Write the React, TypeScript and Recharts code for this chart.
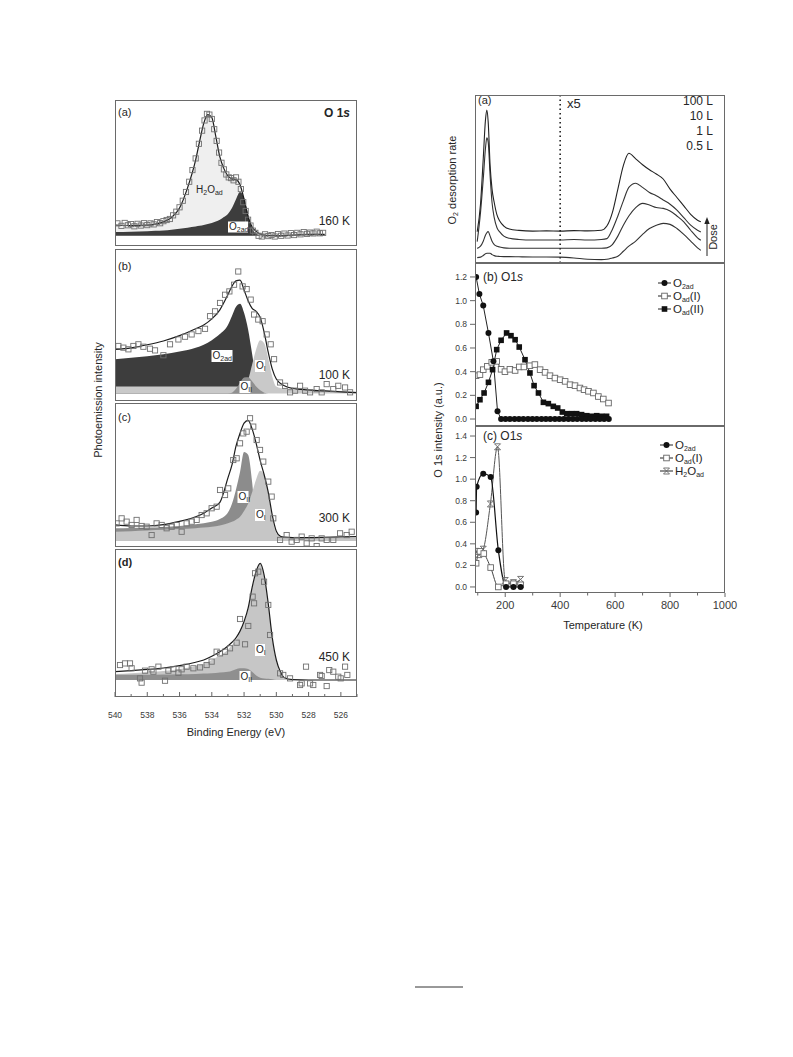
import React from "react";
import { ComposedChart, Line, Area, Scatter, XAxis, YAxis, ReferenceLine } from "recharts";

const FONT = "'Liberation Sans', Arial, Helvetica, sans-serif";
const INK = "#262626";
const AXIS = "#555";

// ---------- XPS O 1s spectra (left) ----------
const beTicks = [525, 526, 527, 528, 529, 530, 531, 532, 533, 534, 535, 536, 537, 538, 539, 540];
const beMajor = [526, 528, 530, 532, 534, 536, 538, 540];

// (a) 160 K
const aEnergy = [540, 539, 538, 537.5, 537, 536.5, 536, 535.5, 535, 534.75, 534.5, 534.25, 534, 533.75, 533.5, 533.25, 533, 532.75, 532.5, 532.25, 532, 531.75, 531.5, 531.25, 531, 530.5, 530, 529, 528, 527];
const aFit = [14.4, 14.0, 14.3, 15.0, 16.5, 19.5, 26, 40, 59, 72, 84, 90, 88, 75, 61, 53, 48, 46, 45.5, 42, 32, 20, 13, 10, 8.2, 7.2, 7.0, 7.5, 8.0, 8.0];
const aO2ad = [9.6, 9.8, 10.1, 10.4, 10.7, 11.2, 11.8, 12.5, 13.3, 13.8, 14.3, 15, 15.8, 16.8, 18, 19.8, 22, 26, 32, 37, 33, 22, 12, 8.5, 7.2, 7.2, 7.2, 7.2, 7.2, 7.2];
const aPoints = [
  [539.85, 15.5], [539.6, 13.8], [539.4, 15.8], [539.2, 14.2], [539.0, 15.0], [538.8, 13.5], [538.6, 15.2], [538.4, 14.0],
  [538.2, 15.6], [538.0, 14.3], [537.8, 15.5], [537.6, 14.8], [537.4, 16.4], [537.2, 15.6], [537.0, 17.0], [536.8, 17.8],
  [536.6, 18.5], [536.4, 21], [536.2, 23.5], [536.0, 26.5], [535.8, 31], [535.6, 37], [535.4, 44], [535.2, 52],
  [535.0, 60], [534.8, 70], [534.6, 79], [534.45, 86], [534.3, 90.5], [534.15, 90], [534.0, 87], [533.85, 80],
  [533.7, 72], [533.55, 64], [533.4, 57], [533.25, 52.5], [533.1, 49], [532.95, 47], [532.8, 46.5], [532.65, 45],
  [532.5, 47], [532.35, 44], [532.2, 39], [532.05, 30], [531.9, 24], [531.75, 18], [531.6, 14], [531.45, 10.5],
  [531.3, 9], [531.1, 7], [530.9, 6.5], [530.7, 8], [530.5, 6.8], [530.3, 7.5], [530.1, 6.5], [529.9, 8.2],
  [529.7, 7], [529.5, 8.5], [529.3, 7.2], [529.1, 8.8], [528.9, 7.5], [528.7, 9], [528.5, 8], [528.3, 9.5],
  [528.1, 8.3], [527.9, 9.2], [527.7, 8.6], [527.5, 9.8], [527.3, 8.7], [527.1, 9.0],
];

// (b) 100 K
const bEnergy = [540, 539, 538, 537, 536, 535, 534.5, 534, 533.5, 533, 532.75, 532.5, 532.25, 532, 531.75, 531.5, 531.25, 531, 530.75, 530.5, 530.25, 530, 529.5, 529, 528, 527, 526, 525];
const bFit = [34, 35, 37, 39.5, 43, 47.5, 50, 54, 60, 70, 75.5, 79, 79.5, 73, 66, 61, 59, 55, 45, 32, 21, 14.5, 10, 8.3, 7.3, 6.6, 6, 5.5];
const bO2ad = [27.5, 28.5, 29.5, 30.8, 32.5, 35, 37, 40, 44, 50, 56, 62, 64, 58, 47, 31, 15, 8, 5, 5, 5, 5, 5, 5, 5, 5, 5, 5];
const bOI = [9.5, 9.5, 9.5, 9.5, 9.5, 9.5, 9.5, 9.5, 9.5, 9.5, 9.5, 9.5, 9.6, 10, 14, 24, 34, 40, 38, 28, 16, 9.5, 8, 7.5, 7.2, 7, 6.6, 6.2];
const bOII = [5, 5, 5, 5, 5, 5, 5, 5, 5, 5, 5.5, 8, 12, 15.5, 15.7, 13, 9.5, 7, 5.5, 5, 5, 5, 5, 5, 5, 5, 5, 5];
const bPoints = [
  [539.79, 36.2], [539.48, 35.1], [539.17, 34.0], [538.86, 36.2], [538.55, 37.3], [538.24, 35.7], [537.83, 34.4], [537.52, 33.3],
  [537.0, 30.1], [536.59, 37.3], [536.07, 40.5], [535.66, 42.3], [535.25, 43.8], [534.83, 46.0], [534.42, 47.5], [534.11, 55.8],
  [533.8, 59.0], [533.49, 64.5], [533.18, 69.9], [532.91, 72.1], [532.62, 76.5], [532.36, 85.2], [532.09, 75.4], [531.84, 73.6],
  [531.59, 66.7], [531.38, 56.9], [531.12, 53.6], [530.85, 52.5], [530.6, 43.8], [530.35, 37.3], [530.14, 27.5], [529.77, 12.2],
  [529.46, 10.0], [529.15, 5.7], [528.84, 6.8], [528.53, 10.0], [528.22, 6.8], [527.91, 5.7], [527.5, 7.8], [527.19, 5.7],
  [526.88, 11.1], [526.47, 7.8], [526.16, 10.0], [525.74, 8.9], [525.43, 5.7],
];

// (c) 300 K and (d) 450 K share one energy grid
const cdEnergy = [540, 539, 538, 537, 536, 535, 534.5, 534, 533.5, 533, 532.75, 532.5, 532.25, 532, 531.75, 531.5, 531.25, 531, 530.75, 530.5, 530.25, 530, 529.75, 529.5, 529, 528, 527, 526, 525];
const cFit = [15.3, 14.6, 14.6, 15.5, 17.8, 21, 23.5, 27, 31, 48, 57, 70, 79, 86, 88, 82, 72, 60, 50, 38, 22, 11, 7.5, 6.8, 6.5, 6.5, 6.7, 7, 7.2];
const cOII = [13, 13.2, 13.5, 13.8, 14.5, 15.8, 16.5, 17.5, 19.5, 24, 30, 40, 52, 66, 64, 45, 15, 9, 8, 6, 6, 6, 6, 6, 6, 6, 6, 6, 6];
const cOI = [10.6, 11, 11.5, 12, 12.5, 13, 13.5, 14, 15, 16.5, 17.5, 19, 21, 25, 30, 38, 47, 53, 50, 37, 20, 9.5, 7, 6.3, 6, 6, 6, 6, 6];
const cPoints = [
  [539.9, 16.4], [539.59, 19.9], [539.28, 17.6], [538.97, 15.3], [538.66, 18.8], [538.35, 14.6], [538.04, 14.1], [537.73, 8.3],
  [537.42, 16.4], [537.11, 15.3], [536.8, 13.0], [536.49, 14.1], [536.18, 15.3], [535.87, 10.6], [535.56, 16.4], [535.25, 17.6],
  [534.94, 18.8], [534.63, 22.2], [534.32, 23.4], [534.01, 26.9], [533.7, 28.0], [533.49, 39.6], [533.18, 36.1], [532.98, 40.7],
  [532.67, 60.4], [532.46, 61.6], [532.25, 72.0], [532.05, 78.9], [531.84, 80.1], [531.63, 89.4], [531.43, 83.6], [531.22, 74.3],
  [531.01, 67.4], [530.81, 59.3], [530.5, 45.4], [530.29, 35.0], [530.19, 19.9], [529.77, 4.9], [529.36, 8.3], [529.05, 3.7],
  [528.74, 4.9], [528.43, 7.2], [528.12, 2.5], [527.81, 6.0], [527.5, 0.6], [527.19, 6.0], [526.88, 4.9], [526.47, 4.9],
  [526.05, 9.5], [525.64, 8.3], [525.33, 10.6],
];
const dFit = [17.1, 17.8, 18.6, 19.6, 21.2, 23.5, 25, 27.5, 30.5, 34.5, 37, 40, 44.5, 51, 60, 74, 85, 90.3, 82, 63, 40, 25, 17, 13, 11.8, 11.5, 11.5, 11.5, 11.5];
const dOI = [15.5, 16, 16.8, 17.6, 19, 21, 22.5, 25, 28, 32, 35, 38.5, 43.5, 50, 59.5, 73.5, 84.5, 90, 81.5, 62.5, 39.5, 24, 16, 12.5, 11.8, 11.5, 11.5, 11.5, 11.5];
const dOII = [15, 15, 15, 15.2, 15.4, 15.6, 15.8, 16, 16.5, 17, 17.8, 18.8, 19.4, 19.5, 19, 17, 14.5, 13, 12.5, 12.3, 12, 11.5, 11.5, 11.5, 11.5, 11.5, 11.5, 11.5, 11.5];
const dPoints = [
  [539.69, 21.6], [539.38, 22.7], [539.07, 22.7], [538.97, 19.4], [538.45, 12.6], [538.35, 9.7], [538.14, 17.8], [537.73, 18.7],
  [537.62, 17.1], [537.31, 20.5], [536.9, 11.0], [536.69, 17.8], [536.38, 18.9], [536.07, 16.4], [535.87, 18.7], [535.56, 20.5],
  [535.14, 19.4], [534.73, 20.0], [534.32, 21.6], [534.01, 23.9], [533.7, 30.6], [533.49, 29.5], [533.18, 30.6], [532.87, 32.9],
  [532.46, 36.7], [532.25, 52.7], [531.94, 35.6], [531.74, 48.0], [531.47, 67.8], [531.38, 63.3], [531.32, 83.6], [531.12, 84.7],
  [530.76, 77.9], [530.5, 62.2], [530.39, 41.9], [529.77, 16.0], [529.57, 14.9], [529.15, 12.6], [528.53, 8.1], [528.43, 9.2],
  [528.16, 20.5], [527.91, 9.2], [527.71, 8.1], [527.29, 14.9], [527.19, 14.2], [526.88, 7.4], [526.72, 18.2], [526.47, 17.1],
  [526.16, 13.7], [526.01, 12.6], [525.74, 20.5], [525.6, 14.9],
];

// ---------- O2 TPD (right, a) ----------
const tpdT = [98, 110, 120, 128, 133, 138, 145, 152, 160, 170, 180, 195, 215, 250, 300, 350, 400, 450, 500, 550, 570, 590, 610, 630, 650, 675, 700, 725, 750, 775, 800, 825, 850, 875, 900, 912];
const tpd100L = [18.6, 35, 62, 85, 91, 84, 58, 44, 36, 28.6, 25, 22, 20.2, 19.4, 19, 19.1, 19, 19.3, 19.1, 19.5, 22, 30, 44, 58, 65.3, 62, 58.5, 55.5, 53, 50, 44, 39, 34, 29, 25.5, 24.5];
const tpd10L = [12.7, 30, 50, 68, 74.5, 72, 52, 36, 27, 21, 18.5, 16, 14.7, 14, 13.7, 13.7, 13.7, 14, 13.7, 14, 14.5, 20, 28, 37, 45, 47.5, 45, 42, 40, 37.5, 35, 31.5, 27, 22.5, 19.5, 18.5];
const tpd1L = [8.7, 10, 13, 16.5, 18, 18.7, 16, 13, 11, 10, 9.5, 9, 8.8, 8.8, 8.8, 8.8, 8.8, 8.8, 8.8, 8.8, 9, 11, 16, 22.5, 28, 33, 35.5, 34.5, 33, 32.5, 31, 28, 24.5, 19.5, 15, 13.5];
const tpd05L = [3.2, 3.5, 4.5, 5.5, 5.8, 5.8, 5.8, 5, 4.4, 4, 3.9, 3.8, 3.8, 3.7, 3.6, 3.6, 3.5, 3, 2.2, 2, 2.2, 3, 4, 7, 10, 13, 17, 20.5, 22.5, 23.6, 23, 20.5, 17, 13, 9, 7.5];
const doseLevels = [8.8, 13.7, 19];

// ---------- O 1s intensity vs temperature (right, b) ----------
const bO2T = [94, 106, 120, 139, 157, 172, 185, 201, 217, 234, 250, 266, 283, 299, 315, 332, 348, 364, 381, 397, 413, 430, 446, 462, 479, 495, 511, 528, 544, 560, 577];
const bO2V = [1.2, 1.056, 0.958, 0.727, 0.487, 0.065, 0, 0, 0, 0, 0, 0, 0, 0, 0, 0, 0, 0, 0, 0, 0, 0, 0, 0, 0, 0, 0, 0, 0, 0, 0];
const bOIT = [94, 108, 120, 135, 151, 169, 185, 199, 217, 236, 251, 268, 290, 308, 327, 345, 363, 381, 400, 418, 436, 454, 472, 487, 503, 521, 539, 557, 576];
const bOIV = [0.366, 0.375, 0.417, 0.445, 0.479, 0.487, 0.42, 0.4, 0.42, 0.41, 0.44, 0.44, 0.45, 0.46, 0.417, 0.394, 0.366, 0.346, 0.332, 0.318, 0.29, 0.282, 0.262, 0.248, 0.234, 0.22, 0.19, 0.169, 0.135];
const bOIIT = [94, 108, 123, 139, 154, 169, 185, 205, 221, 236, 251, 272, 290, 305, 321, 339, 357, 375, 391, 408, 424, 442, 460, 478, 497, 515, 533, 551, 569];
const bOIIV = [0.107, 0.163, 0.22, 0.31, 0.417, 0.586, 0.665, 0.727, 0.704, 0.67, 0.608, 0.501, 0.389, 0.282, 0.22, 0.141, 0.13, 0.107, 0.093, 0.059, 0.045, 0.045, 0.045, 0.037, 0.028, 0.023, 0.028, 0.023, 0.023];

// ---------- O 1s intensity vs temperature (right, c) ----------
const cO2T = [94, 96, 120, 147, 175, 203, 230, 256];
const cO2V = [0.69, 0.93, 1.05, 1.02, 0.34, 0.0, 0.0, 0.0];
const cOIT = [94, 108, 122, 147, 175, 203, 230, 256];
const cOIV = [0.22, 0.33, 0.31, 0.18, 0.0, 0.03, 0.03, 0.02];
const cH2OT = [94, 104, 120, 146, 172, 200, 230, 256];
const cH2OV = [0.33, 0.3, 0.35, 0.77, 1.3, 0.06, 0.04, 0.07];

const tempTicks = [100, 200, 300, 400, 500, 600, 700, 800, 900, 1000];
const tempMajor = [200, 400, 600, 800, 1000];
const bYTicks = [0, 0.2, 0.4, 0.6, 0.8, 1.0, 1.2];
const cYTicks = [0, 0.2, 0.4, 0.6, 0.8, 1.0, 1.2, 1.4];

const toRows = (e: number[], cols: Record<string, number[]>) =>
  e.map((x, i) => {
    const r: Record<string, number> = { e: x };
    Object.keys(cols).forEach((k) => (r[k] = cols[k][i]));
    return r;
  });
const toPts = (p: number[][]) => p.map(([e, v]) => ({ e, v }));
const toSeries = (t: number[], v: number[]) => t.map((x, i) => ({ t: x, v: v[i] }));

// custom tick: draws its own tick line (inward or outward) plus optional label
type TickCfg = { side: "x" | "yl" | "yr"; majors: number[]; len: number; minor: number; dir: number; label?: (v: number) => string; size?: number; gap?: number };
const makeTick = (c: TickCfg) => (p: any) => {
  const v = p.payload?.value;
  const major = c.majors.some((m) => Math.abs(m - v) < 1e-6);
  const L = major ? c.len : c.minor;
  const { x, y } = p;
  if (c.side === "x") {
    return (
      <g>
        <line x1={x} x2={x} y1={y} y2={y + c.dir * L} stroke={AXIS} strokeWidth={0.9} />
        {c.label && major && (
          <text x={x} y={y + (c.gap || 12)} textAnchor="middle" fontSize={c.size || 9} fill="#3a3a3a" fontFamily={FONT}>
            {c.label(v)}
          </text>
        )}
      </g>
    );
  }
  const sx = c.side === "yl" ? -1 : 1;
  return (
    <g>
      <line x1={x} x2={x + sx * c.dir * L} y1={y} y2={y} stroke={AXIS} strokeWidth={0.9} />
      {c.label && (
        <text x={x - L - 3} y={y + 3} textAnchor="end" fontSize={c.size || 9} fill="#3a3a3a" fontFamily={FONT}>
          {c.label(v)}
        </text>
      )}
    </g>
  );
};

const OpenSq = (p: any) => <rect x={p.cx - 2.6} y={p.cy - 2.6} width={5.2} height={5.2} fill="none" stroke="#707070" strokeWidth={0.9} />;

type Layer = { key: string; fill: string };
type XpsProps = { top: number; height: number; rows: any[]; points: any[]; layers: Layer[]; base: number; withAxis?: boolean };

function XpsPanel({ top, height, rows, points, layers, base, withAxis }: XpsProps) {
  const axisH = withAxis ? 28 : 0;
  return (
    <div style={{ position: "absolute", left: 103, top }}>
      <ComposedChart width={266} height={height + axisH} data={rows} margin={{ top: 0, right: 12, bottom: 0, left: 12 }}>
        <XAxis
          dataKey="e"
          type="number"
          domain={[525, 540]}
          reversed
          allowDataOverflow
          ticks={beTicks}
          interval={0}
          height={axisH}
          hide={!withAxis}
          axisLine={false}
          tickLine={false}
          tickSize={0}
          tickMargin={0}
          tick={makeTick({ side: "x", majors: beMajor, len: 5, minor: 3, dir: -1, label: (v) => String(v), size: 8.5, gap: 21 })}
        />
        <XAxis
          xAxisId="top"
          dataKey="e"
          orientation="top"
          type="number"
          domain={[525, 540]}
          reversed
          allowDataOverflow
          ticks={beTicks}
          interval={0}
          height={0}
          axisLine={false}
          tickLine={false}
          tickSize={0}
          tickMargin={0}
          tick={makeTick({ side: "x", majors: beMajor, len: 5, minor: 3, dir: 1 })}
        />
        <YAxis type="number" domain={[0, 100]} allowDataOverflow hide />
        {layers.map((l) => (
          <Area key={l.key} dataKey={l.key} type="monotone" baseValue={base} stroke="none" fill={l.fill} fillOpacity={1} isAnimationActive={false} />
        ))}
        <Scatter data={points} dataKey="v" shape={OpenSq} isAnimationActive={false} />
        <Line dataKey="fit" type="monotone" stroke="#1c1c1c" strokeWidth={1.2} dot={false} isAnimationActive={false} />
        {/* invisible twin so the tick-only top axis gets a scale */}
        <Line xAxisId="top" dataKey="fit" stroke="none" dot={false} activeDot={false} isAnimationActive={false} />
      </ComposedChart>
    </div>
  );
}

const Circle = (p: any) => <circle key={p.key} cx={p.cx} cy={p.cy} r={3} fill="#111" />;
const FilledSq = (p: any) => <rect key={p.key} x={p.cx - 2.8} y={p.cy - 2.8} width={5.6} height={5.6} fill="#111" />;
const EmptySq = (p: any) => <rect key={p.key} x={p.cx - 2.8} y={p.cy - 2.8} width={5.6} height={5.6} fill="#fff" stroke="#666" strokeWidth={0.9} />;
const Hourglass = (p: any) => (
  <g key={p.key} stroke="#666" strokeWidth={0.9}>
    <line x1={p.cx - 3} y1={p.cy - 3} x2={p.cx + 3} y2={p.cy + 3} />
    <line x1={p.cx - 3} y1={p.cy + 3} x2={p.cx + 3} y2={p.cy - 3} />
    <line x1={p.cx - 3} y1={p.cy - 3} x2={p.cx + 3} y2={p.cy - 3} />
    <line x1={p.cx - 3} y1={p.cy + 3} x2={p.cx + 3} y2={p.cy + 3} />
  </g>
);

const topTempAxis = (
  <XAxis
    xAxisId="top"
    dataKey="t"
    orientation="top"
    type="number"
    domain={[90, 1000]}
    allowDataOverflow
    ticks={[200, 300, 400, 500, 600, 700, 800, 900]}
    interval={0}
    height={0}
    axisLine={false}
    tickLine={false}
    tickSize={0}
    tickMargin={0}
    tick={makeTick({ side: "x", majors: tempMajor, len: 5, minor: 3, dir: 1 })}
  />
);

const Sub = ({ children }: { children: React.ReactNode }) => (
  <tspan fontSize={7} dy={2}>
    {children}
  </tspan>
);

function LabelBox({ x, y, w, h, children }: { x: number; y: number; w: number; h: number; children: React.ReactNode }) {
  return (
    <g>
      <rect x={x - w / 2} y={y - h / 2} width={w} height={h} fill="#fff" />
      <text x={x - w / 2 + 1} y={y + 3} fontSize={10} fill={INK}>
        {children}
      </text>
    </g>
  );
}

function LegendRow({ x, y, marker, children }: { x: number; y: number; marker: (p: any) => React.ReactElement; children: React.ReactNode }) {
  return (
    <g>
      <line x1={x} x2={x + 13} y1={y} y2={y} stroke="#222" strokeWidth={1} />
      {marker({ cx: x + 6.5, cy: y })}
      <text x={x + 15} y={y + 4} fontSize={11.5} fill={INK}>
        {children}
      </text>
    </g>
  );
}

export default function App() {
  const aRows = toRows(aEnergy, { fit: aFit, h2o: aFit, o2: aO2ad });
  const bRows = toRows(bEnergy, { fit: bFit, o2: bO2ad, oi: bOI, oii: bOII });
  const cRows = toRows(cdEnergy, { fit: cFit, oii: cOII, oi: cOI });
  const dRows = toRows(cdEnergy, { fit: dFit, oi: dOI, oii: dOII });
  const tpdRows = tpdT.map((t, i) => ({ t, l100: tpd100L[i], l10: tpd10L[i], l1: tpd1L[i], l05: tpd05L[i] }));
  const bO2 = toSeries(bO2T, bO2V);
  const cO2 = toSeries(cO2T, cO2V);

  const frame = (left: number, top: number, w: number, h: number) => (
    <div style={{ position: "absolute", left, top, width: w, height: h, border: "1px solid #6a6a6a", boxSizing: "border-box", pointerEvents: "none" }} />
  );

  return (
    <div style={{ position: "absolute", left: 0, top: 0, width: 793, height: 1057, background: "#fff", fontFamily: FONT }}>
      {/* left: XPS panels */}
      <XpsPanel top={100} height={146} rows={aRows} points={toPts(aPoints)} base={7} layers={[{ key: "h2o", fill: "#efefef" }, { key: "o2", fill: "#3d3d3d" }]} />
      <XpsPanel top={249} height={152} rows={bRows} points={toPts(bPoints)} base={5} layers={[{ key: "o2", fill: "#3d3d3d" }, { key: "oi", fill: "#c9c9c9" }, { key: "oii", fill: "#8f8f8f" }]} />
      <XpsPanel top={403} height={144} rows={cRows} points={toPts(cPoints)} base={4.5} layers={[{ key: "oii", fill: "#8c8c8c" }, { key: "oi", fill: "#c6c6c6" }]} />
      <XpsPanel top={549} height={148} rows={dRows} points={toPts(dPoints)} base={11.5} withAxis layers={[{ key: "oi", fill: "#c6c6c6" }, { key: "oii", fill: "#8f8f8f" }]} />
      {frame(115, 100, 242, 146)}
      {frame(115, 249, 242, 152)}
      {frame(115, 403, 242, 144)}
      {frame(115, 549, 242, 148)}

      {/* right (a): TPD */}
      <div style={{ position: "absolute", left: 475, top: 95 }}>
        <ComposedChart width={250} height={168} data={tpdRows} margin={{ top: 0, right: 0, bottom: 0, left: 0 }}>
          <XAxis dataKey="t" type="number" domain={[90, 1000]} allowDataOverflow hide />
          {topTempAxis}
          <YAxis type="number" domain={[0, 100]} allowDataOverflow hide />
          <YAxis
            yAxisId="r"
            orientation="right"
            type="number"
            domain={[0, 100]}
            allowDataOverflow
            ticks={doseLevels}
            interval={0}
            width={0}
            axisLine={false}
            tickLine={false}
            tickSize={0}
            tickMargin={0}
            tick={makeTick({ side: "yr", majors: doseLevels, len: 4, minor: 4, dir: -1 })}
          />
          <ReferenceLine x={400} stroke="#222" strokeWidth={1.6} strokeDasharray="1.5 3" />
          <Line dataKey="l05" type="monotone" stroke="#333" strokeWidth={1.1} dot={false} isAnimationActive={false} />
          <Line dataKey="l1" type="monotone" stroke="#333" strokeWidth={1.1} dot={false} isAnimationActive={false} />
          <Line dataKey="l10" type="monotone" stroke="#333" strokeWidth={1.1} dot={false} isAnimationActive={false} />
          <Line dataKey="l100" type="monotone" stroke="#222" strokeWidth={1.1} dot={false} isAnimationActive={false} />
          <Line xAxisId="top" dataKey="l05" stroke="none" dot={false} activeDot={false} isAnimationActive={false} />
          <Line yAxisId="r" dataKey="l05" stroke="none" dot={false} activeDot={false} isAnimationActive={false} />
        </ComposedChart>
      </div>
      {frame(475, 95, 250, 168)}

      {/* right (b) */}
      <div style={{ position: "absolute", left: 440, top: 263 }}>
        <ComposedChart width={300} height={163} margin={{ top: 0, right: 15, bottom: 0, left: 0 }}>
          <XAxis dataKey="t" type="number" domain={[90, 1000]} allowDataOverflow hide />
          {topTempAxis}
          <YAxis
            type="number"
            domain={[-0.059, 1.318]}
            allowDataOverflow
            ticks={bYTicks}
            interval={0}
            width={35}
            axisLine={false}
            tickLine={false}
            tickSize={0}
            tickMargin={0}
            tick={makeTick({ side: "yl", majors: bYTicks, len: 5, minor: 5, dir: 1, label: (v) => v.toFixed(1), size: 8.5 })}
          />
          <Line data={toSeries(bOIT, bOIV)} dataKey="v" type="linear" stroke="#444" strokeWidth={1} dot={EmptySq} isAnimationActive={false} />
          <Line data={toSeries(bOIIT, bOIIV)} dataKey="v" type="linear" stroke="#222" strokeWidth={1} dot={FilledSq} isAnimationActive={false} />
          <Line data={bO2} dataKey="v" type="linear" stroke="#222" strokeWidth={1} dot={Circle} isAnimationActive={false} />
          <Line xAxisId="top" data={bO2} dataKey="v" stroke="none" dot={false} activeDot={false} isAnimationActive={false} />
        </ComposedChart>
      </div>
      {frame(475, 263, 250, 163)}

      {/* right (c) */}
      <div style={{ position: "absolute", left: 440, top: 426 }}>
        <ComposedChart width={300} height={167 + 24} margin={{ top: 0, right: 15, bottom: 0, left: 0 }}>
          <XAxis
            dataKey="t"
            type="number"
            domain={[90, 1000]}
            allowDataOverflow
            ticks={tempTicks}
            interval={0}
            height={24}
            axisLine={false}
            tickLine={false}
            tickSize={0}
            tickMargin={0}
            tick={makeTick({ side: "x", majors: tempMajor, len: 4, minor: 2.5, dir: 1, label: (v) => String(v), size: 11, gap: 16 })}
          />
          {topTempAxis}
          <YAxis
            type="number"
            domain={[-0.056, 1.493]}
            allowDataOverflow
            ticks={cYTicks}
            interval={0}
            width={35}
            axisLine={false}
            tickLine={false}
            tickSize={0}
            tickMargin={0}
            tick={makeTick({ side: "yl", majors: cYTicks, len: 5, minor: 5, dir: 1, label: (v) => v.toFixed(1), size: 8.5 })}
          />
          <Line data={toSeries(cH2OT, cH2OV)} dataKey="v" type="monotone" stroke="#555" strokeWidth={1} dot={Hourglass} isAnimationActive={false} />
          <Line data={toSeries(cOIT, cOIV)} dataKey="v" type="monotone" stroke="#444" strokeWidth={1} dot={EmptySq} isAnimationActive={false} />
          <Line data={cO2} dataKey="v" type="monotone" stroke="#111" strokeWidth={1.2} dot={Circle} isAnimationActive={false} />
          <Line xAxisId="top" data={cO2} dataKey="v" stroke="none" dot={false} activeDot={false} isAnimationActive={false} />
        </ComposedChart>
      </div>
      {frame(475, 426, 250, 167)}

      {/* annotations */}
      <svg width={793} height={1057} style={{ position: "absolute", left: 0, top: 0, pointerEvents: "none" }} fontFamily={FONT}>
        <text x={118} y={116} fontSize={11} fill={INK}>(a)</text>
        <text x={350} y={117} fontSize={12} fontWeight="bold" fill={INK} textAnchor="end">
          O 1<tspan fontStyle="italic">s</tspan>
        </text>
        <text x={196} y={193} fontSize={10} fill={INK}>
          H<Sub>2</Sub><tspan dy={-2}>O</tspan><Sub>ad</Sub>
        </text>
        <LabelBox x={238} y={227} w={20} h={11}>O<Sub>2ad</Sub></LabelBox>
        <text x={350} y={225} fontSize={12} fill={INK} textAnchor="end">160 K</text>

        <text x={118} y={270} fontSize={11} fill={INK}>(b)</text>
        <LabelBox x={222} y={356} w={21} h={12}>O<Sub>2ad</Sub></LabelBox>
        <LabelBox x={260} y={366} w={10} h={12}>O<Sub>I</Sub></LabelBox>
        <LabelBox x={245} y={387} w={11} h={12}>O<Sub>II</Sub></LabelBox>
        <text x={350} y={379} fontSize={12} fill={INK} textAnchor="end">100 K</text>

        <text x={118} y={421} fontSize={11} fill={INK}>(c)</text>
        <LabelBox x={243} y={497} w={11} h={12}>O<Sub>II</Sub></LabelBox>
        <LabelBox x={260} y={515} w={10} h={12}>O<Sub>I</Sub></LabelBox>
        <text x={350} y={522} fontSize={12} fill={INK} textAnchor="end">300 K</text>

        <text x={118} y={566} fontSize={11} fontWeight="bold" fill={INK}>(d)</text>
        <LabelBox x={260} y={650} w={10} h={12}>O<Sub>I</Sub></LabelBox>
        <LabelBox x={245} y={677} w={11} h={12}>O<Sub>II</Sub></LabelBox>
        <text x={350} y={661} fontSize={12} fill={INK} textAnchor="end">450 K</text>

        <text x={236} y={736} fontSize={11} fill={INK} textAnchor="middle">Binding Energy (eV)</text>
        <text x={102} y={400} fontSize={11} fill={INK} textAnchor="middle" transform="rotate(-90 102 400)">Photoemission intensity</text>

        {/* right */}
        <text x={478} y={104} fontSize={11} fill={INK}>(a)</text>
        <text x={567} y={108} fontSize={13} fill={INK}>x5</text>
        <text x={713} y={105} fontSize={12} fill={INK} textAnchor="end">100 L</text>
        <text x={713} y={120} fontSize={12} fill={INK} textAnchor="end">10 L</text>
        <text x={713} y={135} fontSize={12} fill={INK} textAnchor="end">1 L</text>
        <text x={713} y={150} fontSize={12} fill={INK} textAnchor="end">0.5 L</text>
        <line x1={707} x2={707} y1={256} y2={222} stroke="#222" strokeWidth={1} />
        <polygon points="707,217 704.3,224 709.7,224" fill="#222" />
        <text x={717} y={237} fontSize={11} fill={INK} textAnchor="middle" transform="rotate(-90 717 237)">Dose</text>
        <text x={456} y={180} fontSize={11} fill={INK} textAnchor="middle" transform="rotate(-90 456 180)">
          O<tspan fontSize={7} dy={2}>2</tspan><tspan dy={-2}> desorption rate</tspan>
        </text>

        <text x={483} y={281} fontSize={12} fill={INK}>
          (b) O1<tspan fontStyle="italic">s</tspan>
        </text>
        <LegendRow x={658} y={283} marker={Circle}>O<Sub>2ad</Sub></LegendRow>
        <LegendRow x={658} y={296} marker={EmptySq}>O<Sub>ad</Sub><tspan dy={-2}>(I)</tspan></LegendRow>
        <LegendRow x={658} y={309} marker={FilledSq}>O<Sub>ad</Sub><tspan dy={-2}>(II)</tspan></LegendRow>

        <text x={483} y={440} fontSize={12} fill={INK}>
          (c) O1<tspan fontStyle="italic">s</tspan>
        </text>
        <LegendRow x={660} y={445} marker={Circle}>O<Sub>2ad</Sub></LegendRow>
        <LegendRow x={660} y={458} marker={EmptySq}>O<Sub>ad</Sub><tspan dy={-2}>(I)</tspan></LegendRow>
        <LegendRow x={660} y={471} marker={Hourglass}>H<Sub>2</Sub><tspan dy={-2}>O</tspan><Sub>ad</Sub></LegendRow>

        <text x={442} y={430} fontSize={11} fill={INK} textAnchor="middle" transform="rotate(-90 442 430)">O 1s intensity (a.u.)</text>
        <text x={603} y={629} fontSize={11} fill={INK} textAnchor="middle">Temperature (K)</text>

        <line x1={415} x2={463} y1={987} y2={987} stroke="#333" strokeWidth={1} />
      </svg>
    </div>
  );
}
